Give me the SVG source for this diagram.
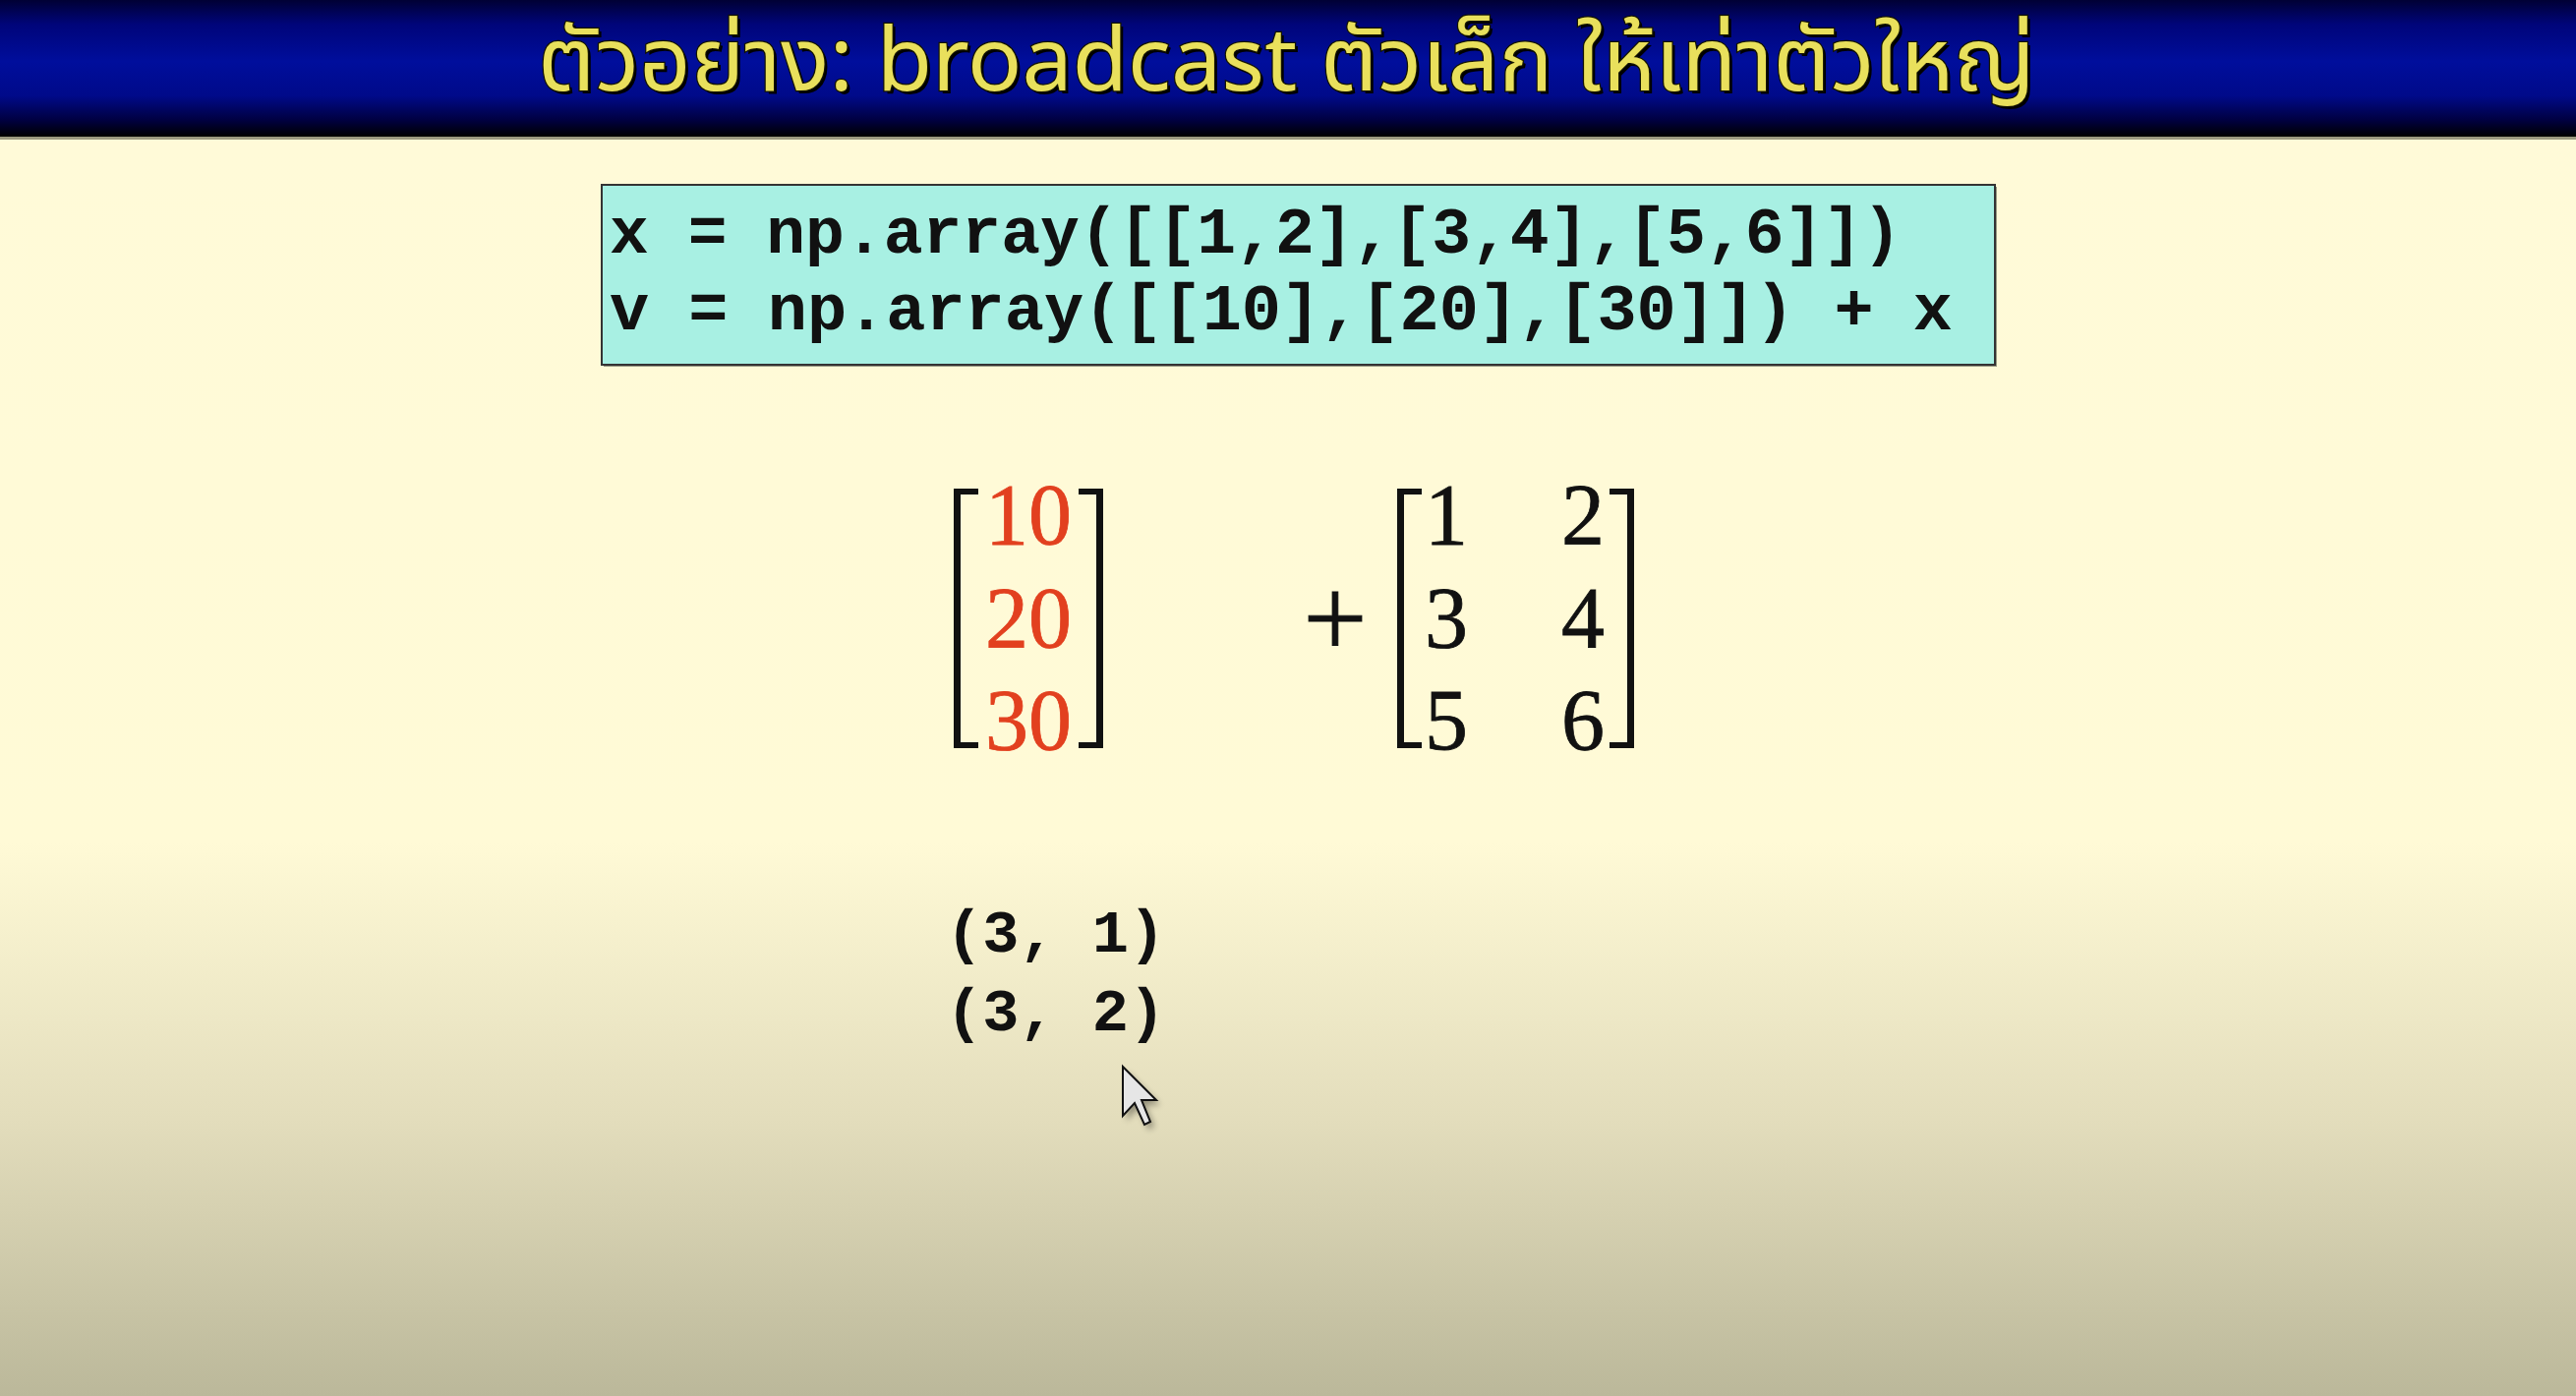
<svg xmlns="http://www.w3.org/2000/svg" width="2620" height="1420" viewBox="0 0 2620 1420">
<defs>
<linearGradient id="band" x1="0" y1="0" x2="0" y2="1">
<stop offset="0" stop-color="#000034"/>
<stop offset="0.18" stop-color="#00057a"/>
<stop offset="0.45" stop-color="#000e9c"/>
<stop offset="0.7" stop-color="#000a8a"/>
<stop offset="0.88" stop-color="#000040"/>
<stop offset="1" stop-color="#000000"/>
</linearGradient>
<linearGradient id="bg" gradientUnits="userSpaceOnUse" x1="0" y1="140" x2="0" y2="1420">
<stop offset="0" stop-color="#fffad8"/>
<stop offset="0.56" stop-color="#fffad6"/>
<stop offset="0.78" stop-color="#e3ddbc"/>
<stop offset="1" stop-color="#bbb89a"/>
</linearGradient>
<filter id="cshadow" x="-50%" y="-50%" width="200%" height="200%">
<feGaussianBlur stdDeviation="3"/>
</filter>
<style>
.title{font-family:"Noto Sans Thai","Noto Sans Thai UI","Leelawadee UI",Tahoma,"Loma","Garuda","Noto Sans","DejaVu Sans",sans-serif;font-size:90px;font-weight:normal}
.code{font-family:"Liberation Mono","Courier New",monospace;font-size:67px;font-weight:bold;fill:#111}
.shape{font-family:"Liberation Mono","Courier New",monospace;font-size:62px;font-weight:bold;fill:#111}
.mat{font-family:"Liberation Serif","Times New Roman",serif;font-size:88px;stroke-width:0.8px}
.red{fill:#e2401f;stroke:#e2401f}
.blk{fill:#111;stroke:#111}
.br{fill:#111}
.plus{font-size:116px;stroke-width:0.8px}
</style>
</defs>

<g id="background">
<rect x="0" y="0" width="2620" height="1420" fill="url(#bg)"/>
<rect x="0" y="0" width="2620" height="139" fill="url(#band)"/>
<rect x="0" y="139" width="2620" height="3" fill="#9c9a80"/>
</g>

<g id="title">
<text class="title" x="550" y="95" fill="#000" textLength="1523" lengthAdjust="spacingAndGlyphs">ตัวอย่าง: broadcast ตัวเล็ก ให้เท่าตัวใหญ่</text>
<text class="title" x="547" y="92" fill="#e9e05c" stroke="#141400" stroke-width="2.5" paint-order="stroke" textLength="1523" lengthAdjust="spacingAndGlyphs">ตัวอย่าง: broadcast ตัวเล็ก ให้เท่าตัวใหญ่</text>
</g>

<g id="code-box">
<rect x="614" y="190" width="1417" height="183" fill="#55554a" opacity="0.6"/>
<rect x="612" y="188" width="1417" height="183" fill="#a8f0e3" stroke="#333" stroke-width="2"/>
<text class="code" x="620" y="257" textLength="1314" lengthAdjust="spacingAndGlyphs">x = np.array([[1,2],[3,4],[5,6]])</text>
<text class="code" x="620" y="335" textLength="1366" lengthAdjust="spacingAndGlyphs">v = np.array([[10],[20],[30]]) + x</text>
</g>

<g id="matrix-v">
<path class="br" d="M970 497 H995 V503 H977 V755 H995 V761 H970 Z"/>
<path class="br" d="M1122 497 H1097 V503 H1115 V755 H1097 V761 H1122 Z"/>
<text class="mat red" x="1046" y="553" text-anchor="middle">10</text>
<text class="mat red" x="1046" y="658" text-anchor="middle">20</text>
<text class="mat red" x="1046" y="762" text-anchor="middle">30</text>
</g>

<g id="plus">
<text class="mat blk plus" x="1358" y="668" text-anchor="middle">+</text>
</g>

<g id="matrix-x">
<path class="br" d="M1421 497 H1446 V503 H1428 V755 H1446 V761 H1421 Z"/>
<path class="br" d="M1662 497 H1637 V503 H1655 V755 H1637 V761 H1662 Z"/>
<text class="mat blk" x="1471" y="553" text-anchor="middle">1</text>
<text class="mat blk" x="1610" y="553" text-anchor="middle">2</text>
<text class="mat blk" x="1471" y="658" text-anchor="middle">3</text>
<text class="mat blk" x="1610" y="658" text-anchor="middle">4</text>
<text class="mat blk" x="1471" y="762" text-anchor="middle">5</text>
<text class="mat blk" x="1610" y="762" text-anchor="middle">6</text>
</g>

<g id="shapes">
<text class="shape" x="962" y="968">(3, 1)</text>
<text class="shape" x="962" y="1048">(3, 2)</text>
</g>

<g id="cursor">
<polygon points="1146,1090 1146,1140 1158,1127 1168,1149 1174,1146 1165,1124 1180,1124" fill="#000" opacity="0.35" filter="url(#cshadow)"/>
<polygon points="1142,1085 1142,1135 1154,1122 1164,1144 1170,1141 1161,1119 1176,1119" fill="#e6e6e6" stroke="#111" stroke-width="2" stroke-linejoin="miter"/>
</g>
</svg>
